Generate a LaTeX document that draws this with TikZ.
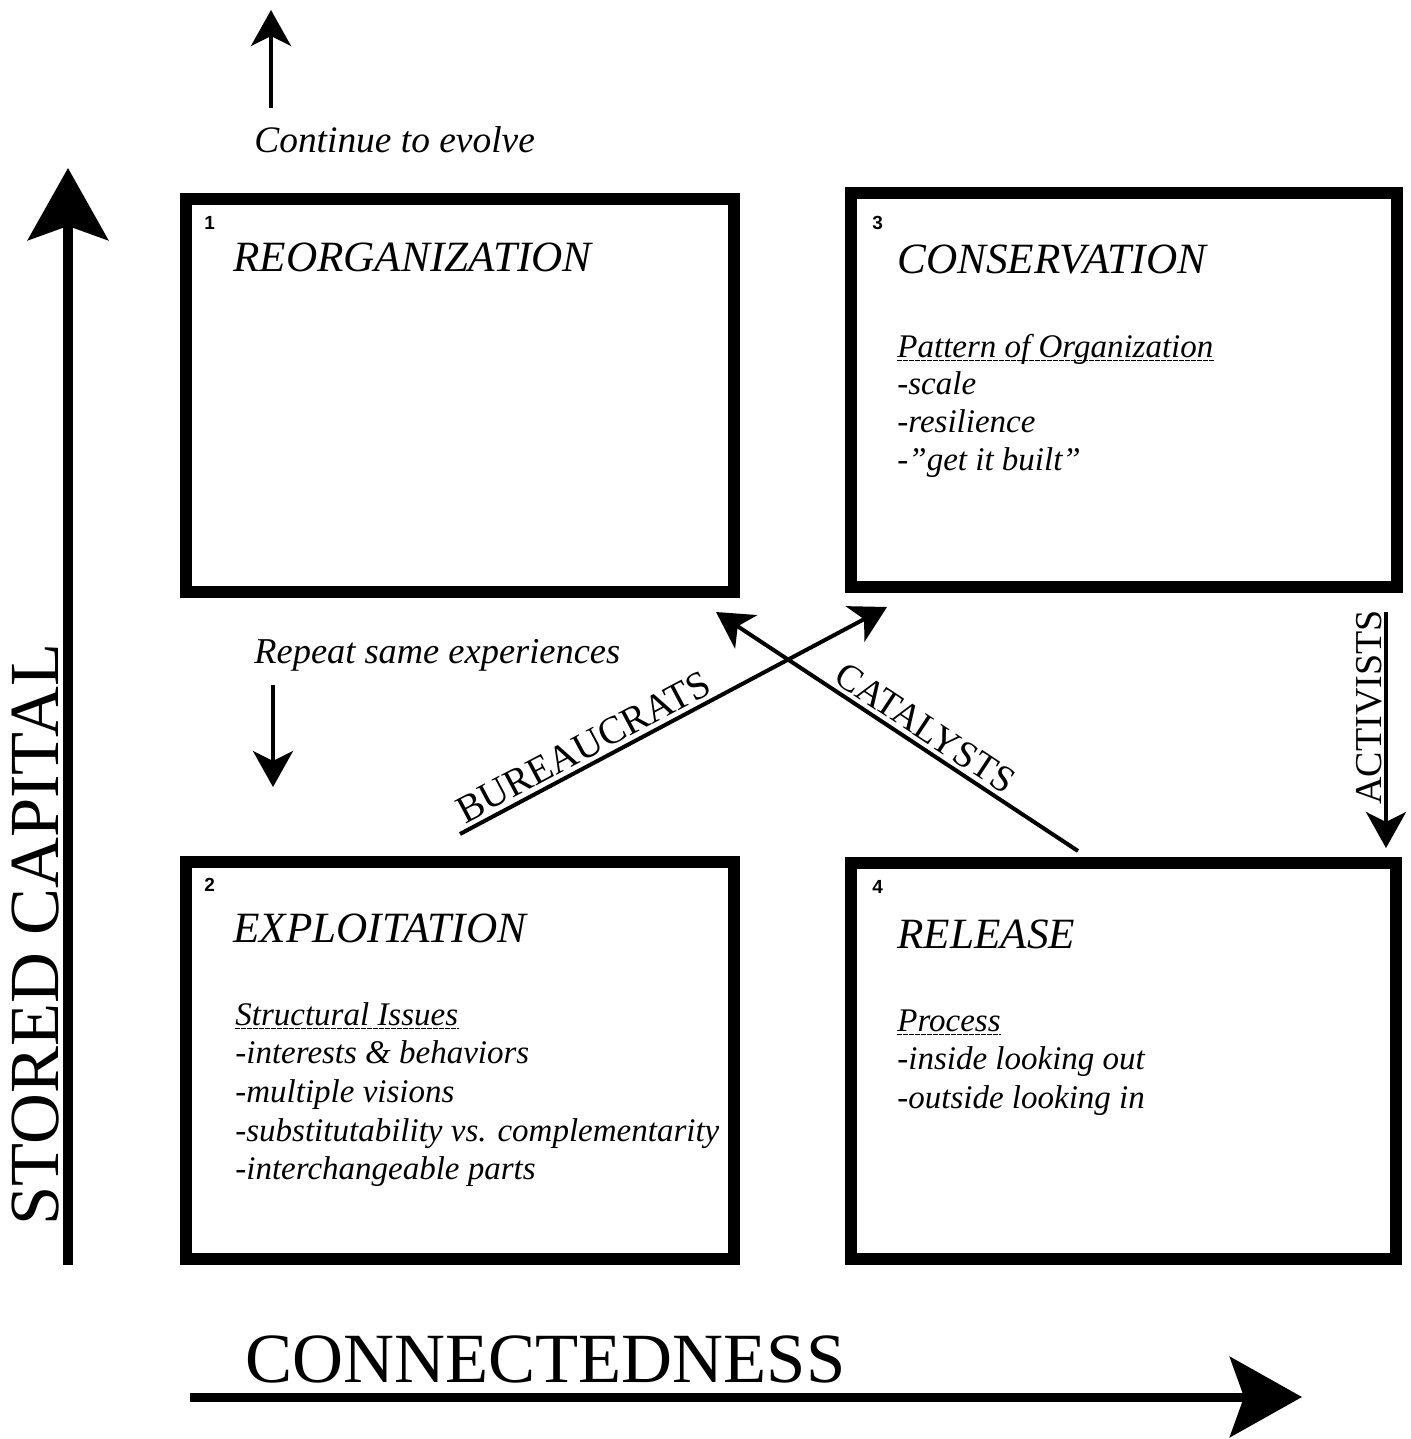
\documentclass[tikz,border=0pt]{standalone}
\usepackage{fontspec}
\setmainfont{Liberation Serif}
\newfontfamily\numfont{Liberation Sans}
\usetikzlibrary{arrows.meta}
\tikzset{
  quad/.style={draw, line width=6pt, inner sep=0pt, outer sep=0pt, rectangle},
  thinarrow/.style={line width=2pt, -{Stealth[length=18pt,width=20pt,inset=5pt]}},
  axisarrow/.style={line width=5pt, -{Stealth[length=36pt,width=40pt,inset=7pt]}},
  numlabel/.style={font=\numfont\bfseries\fontsize{9.5}{11}\selectfont, anchor=base west, inner sep=0pt},
  headlabel/.style={font=\fontsize{21.6}{26}\selectfont\itshape, anchor=base west, inner sep=0pt},
  bodyline/.style={font=\fontsize{16.5}{19}\selectfont\itshape, anchor=base west, inner sep=0pt},
  notelabel/.style={font=\fontsize{18.7}{22}\selectfont\itshape, anchor=base west, inner sep=0pt},
  axislabel/.style={font=\fontsize{35.2}{40}\selectfont, anchor=base west, inner sep=0pt},
  rolelabel/.style={font=\fontsize{19.5}{23}\selectfont, inner sep=2pt},
  uline/.style={line width=0.6pt, dash pattern=on 2.5pt off 0.5pt}
}
\begin{document}
\begin{tikzpicture}[x=0.5pt,y=-0.5pt]
\useasboundingbox (0,0) rectangle (1411,1439);

% boxes
\node[quad, minimum width=274pt, minimum height=196.5pt] (reorg) at (460,395.5) {};
\node[quad, minimum width=273pt, minimum height=197pt] (cons) at (1124,390) {};
\node[quad, minimum width=274pt, minimum height=198.5pt] (expl) at (460,1060.5) {};
\node[quad, minimum width=272.5pt, minimum height=198pt] (rel) at (1123.5,1061) {};

% numbers
\node[numlabel] (n1) at (204,229) {1};
\node[numlabel] (n3) at (872,230) {3};
\node[numlabel] (n2) at (204,891) {2};
\node[numlabel] (n4) at (872,893) {4};

% headings
\node[headlabel] (h1) at (233,271) {REORGANIZATION};
\node[headlabel] (h3) at (897,273) {CONSERVATION};
\node[headlabel] (h2) at (233,942) {EXPLOITATION};
\node[headlabel] (h4) at (897,948) {RELEASE};

% conservation text
\node[bodyline] (c0) at (897,357) {Pattern of Organization};
\draw[uline] ([yshift=-1.8pt]c0.base west) -- ([yshift=-1.8pt]c0.base east);
\node[bodyline] (c1) at (897,394) {-scale};
\node[bodyline] (c2) at (897,432) {-resilience};
\node[bodyline] (c3) at (897,470) {-"get it built"};

% exploitation text
\node[bodyline] (e0) at (235,1025) {Structural Issues};
\draw[uline] ([yshift=-1.8pt]e0.base west) -- ([yshift=-1.8pt]e0.base east);
\node[bodyline] (e1) at (235,1063) {-interests \& behaviors};
\node[bodyline] (e2) at (235,1102) {-multiple visions};
\node[bodyline] (e3) at (235,1141) {-substitutability vs. complementarity};
\node[bodyline] (e4) at (235,1179) {-interchangeable parts};

% release text
\node[bodyline] (r0) at (897,1031) {Process};
\draw[uline] ([yshift=-1.8pt]r0.base west) -- ([yshift=-1.8pt]r0.base east);
\node[bodyline] (r1) at (897,1069) {-inside looking out};
\node[bodyline] (r2) at (897,1108) {-outside looking in};

% notes with small arrows
\node[notelabel] (evolve) at (254,153) {Continue to evolve};
\node[notelabel, font=\fontsize{18.2}{22}\selectfont\itshape] (repeat) at (254,663) {Repeat same experiences};
\coordinate (upA) at (271,108);
\coordinate (upB) at (271,10);
\draw[thinarrow] (upA) -- (upB);
\coordinate (dnA) at (273,685);
\coordinate (dnB) at (273,787);
\draw[thinarrow] (dnA) -- (dnB);

% role arrows
\coordinate (bA) at (460,834);
\coordinate (bB) at (887,607);
\draw[thinarrow] (bA) -- node[rolelabel, sloped, above, pos=0.31] (bur) {BUREAUCRATS} (bB);
\coordinate (kA) at (1078,851);
\coordinate (kB) at (716,612);
\draw[thinarrow] (kA) -- node[rolelabel, sloped, above, pos=0.45, font=\fontsize{18.8}{22}\selectfont] (cat) {CATALYSTS} (kB);
\coordinate (aA) at (1386,612);
\coordinate (aB) at (1386,848);
\draw[thinarrow] (aA) -- (aB);
\node[rolelabel, rotate=90, anchor=base west, inner sep=0pt, font=\fontsize{19}{23}\selectfont] (act) at (1381,805) {ACTIVISTS};

% axes
\coordinate (yA) at (68,1265);
\coordinate (yB) at (68,168);
\draw[axisarrow] (yA) -- (yB);
\node[axislabel, rotate=90] (ylab) at (58,1226) {STORED CAPITAL};
\coordinate (xA) at (190,1397);
\coordinate (xB) at (1302,1397);
\draw[axisarrow, line width=4.5pt] (xA) -- (xB);
\node[axislabel, font=\fontsize{35.3}{42}\selectfont] (xlab) at (245,1382) {CONNECTEDNESS};
\end{tikzpicture}
\end{document}
